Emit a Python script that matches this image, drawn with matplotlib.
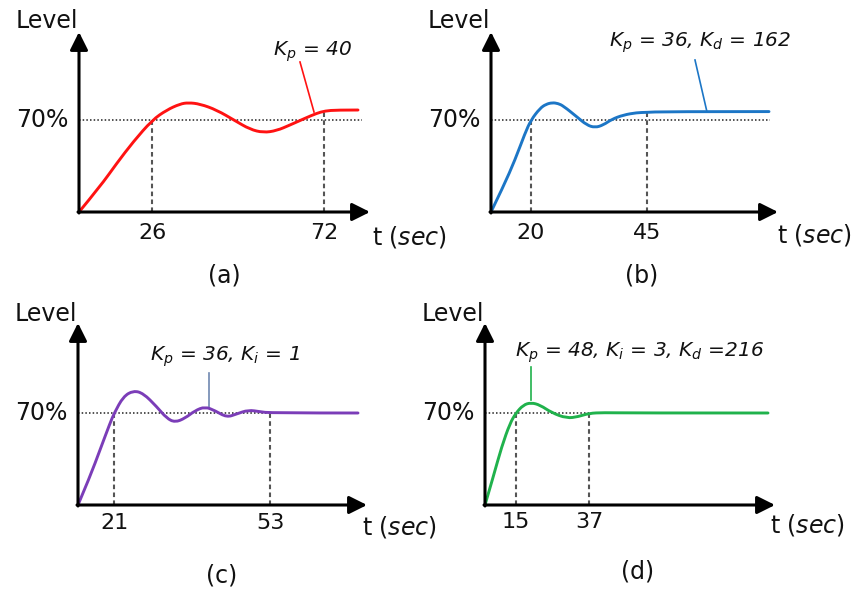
import numpy as np
import matplotlib.pyplot as plt
from matplotlib.path import Path
from matplotlib.patches import PathPatch

plt.rcParams['font.family'] = ['DejaVu Sans']
plt.rcParams['mathtext.fontset'] = 'custom'
plt.rcParams['mathtext.it'] = 'DejaVu Sans:italic'
plt.rcParams['mathtext.rm'] = 'DejaVu Sans'

# x is position along the drawn (schematic) time axis, y is level in %
SETPOINT = 70

t_a = [0, 21, 37.7, 54.3, 73.3, 87.7, 101, 109.3, 121, 137.7, 156, 171, 184.3,
       197.7, 211, 226, 237.7, 246, 257.7, 279]
lvl_a = [0, 19.3, 37.0, 53.5, 70.0, 77.6, 82.2, 83.2, 82.2, 77.6, 69.5, 62.9, 60.4,
         61.9, 66.2, 71.3, 75.1, 76.9, 77.6, 77.6]
ticks_a = [73, 245]
tick_labels_a = ['26', '72']
gains_a = r'$K_p$ = 40'

t_b = [0, 12.3, 24, 34, 40, 49, 55, 61.3, 67, 72.3, 85.7, 95.7, 104, 112.3, 120.7,
       132.3, 145.7, 155.7, 172.3, 278]
lvl_b = [0, 19.3, 39.6, 59.9, 70.0, 78.9, 82.0, 83.2, 82.6, 80.7, 72.5, 66.2, 64.2,
         66.2, 70.5, 73.8, 75.6, 75.8, 76.4, 76.4]
ticks_b = [40, 156]
tick_labels_b = ['20', '45']
gains_b = r'$K_p$ = 36, $K_d$ = 162'

t_c = [0, 12, 22, 32, 36.3, 45.3, 55.3, 65.3, 78.7, 88.7, 97, 107, 117, 127, 137,
       148.7, 158.7, 170.3, 182, 192, 280]
lvl_c = [0, 21.6, 41.9, 62.2, 70.0, 82.5, 87.0, 85.0, 74.8, 66.0, 62.9, 66.0, 71.8,
         74.8, 71.8, 66.7, 69.3, 72.3, 71.0, 70.0, 70.0]
ticks_c = [36, 192]
tick_labels_c = ['21', '53']
gains_c = r'$K_p$ = 36, $K_i$ = 1'

t_d = [0, 8.3, 16.7, 25, 31, 38.3, 46, 55, 66.7, 81.7, 93.3, 104, 118.3, 145, 283]
lvl_d = [0, 21.6, 44.4, 62.2, 70.0, 76.1, 77.9, 76.1, 70.2, 66.0, 67.2, 69.8, 70.3,
         70.0, 70.0]
ticks_d = [31, 104]
tick_labels_d = ['15', '37']
gains_d = r'$K_p$ = 48, $K_i$ = 3, $K_d$ =216'

W, H = 858, 590
S = 92 / 70  # pixels per % level

panels = [
    dict(o=(79, 212), t=t_a, y=lvl_a, ticks=ticks_a, labs=tick_labels_a, gains=gains_a,
         color='#ff1212', lead_color='#ff1212', lab=(233, 160), lead=((221, 150), (235, 100)),
         letter='(a)', letter_xy=(145, -63), tsec=(293, -25), tip=291, top=180, dot=283, ty=-21),
    dict(o=(491, 212), t=t_b, y=lvl_b, ticks=ticks_b, labs=tick_labels_b, gains=gains_b,
         color='#1c76c6', lead_color='#1c76c6', lab=(209, 169), lead=((204, 152), (216, 100)),
         letter='(b)', letter_xy=(151, -63), tsec=(286, -23), tip=287, top=180, dot=279, ty=-21),
    dict(o=(78, 505), t=t_c, y=lvl_c, ticks=ticks_c, labs=tick_labels_c, gains=gains_c,
         color='#7b3db8', lead_color='#7088b0', lab=(147, 148), lead=((131, 132), (131, 98)),
         letter='(c)', letter_xy=(144, -70), tsec=(284, -22), tip=289, top=182, dot=280, ty=-18),
    dict(o=(485, 505), t=t_d, y=lvl_d, ticks=ticks_d, labs=tick_labels_d, gains=gains_d,
         color='#20b24c', lead_color='#20b24c', lab=(155, 152), lead=((46, 138), (46, 105)),
         letter='(d)', letter_xy=(153, -67), tsec=(285, -20), tip=290, top=182, dot=283, ty=-17),
]


def smooth_path(xs, ys):
    # quadratic spline through the midpoints, read points act as control points
    pts = np.column_stack([xs, ys])
    verts = [pts[0]]
    codes = [Path.MOVETO]
    for i in range(1, len(pts) - 1):
        end = pts[i + 1] if i == len(pts) - 2 else (pts[i] + pts[i + 1]) / 2
        verts += [pts[i], end]
        codes += [Path.CURVE3, Path.CURVE3]
    return Path(verts, codes)


fig = plt.figure(figsize=(W / 100, H / 100), dpi=100)

X0, X1, Y0, Y1 = -80, 350, -95, 200
for p in panels:
    ox, oy = p['o']
    ax = fig.add_axes([(ox + X0) / W, (H - (oy - Y0)) / H, (X1 - X0) / W, (Y1 - Y0) / H])
    ax.set_xlim(X0, X1)
    ax.set_ylim(Y0 / S, Y1 / S)
    ax.axis('off')
    ax.patch.set_alpha(0)

    # reference line at setpoint
    ax.plot([0, p['dot']], [SETPOINT, SETPOINT], color='#222222', lw=1.1,
            ls=(0, (1, 1.4)), clip_on=False, zorder=1)
    # dashed markers up to the curve
    for tk, lab in zip(p['ticks'], p['labs']):
        top = np.interp(tk, p['t'], p['y'])
        ax.plot([tk, tk], [0, top], color='#555555', lw=1.5, ls=(0, (2.2, 1.6)),
                clip_on=False, zorder=1)
        ax.text(tk, p['ty'] / S, lab, ha='center', va='center', fontsize=16, color='#111111')

    ax.add_patch(PathPatch(smooth_path(p['t'], p['y']), fill=False, edgecolor=p['color'],
                           lw=2.1, capstyle='round', joinstyle='round', clip_on=False, zorder=3))

    # axes with arrow heads
    arr = dict(arrowstyle='-|>,head_length=0.6,head_width=0.3', lw=2.2, color='black',
               mutation_scale=18, shrinkA=0, shrinkB=0)
    ax.annotate('', xy=(p['tip'], 0), xytext=(-1, 0), arrowprops=arr, zorder=4,
                annotation_clip=False)
    ax.annotate('', xy=(0, p['top'] / S), xytext=(0, -1 / S), arrowprops=arr, zorder=4,
                annotation_clip=False)

    ax.text(-1, 191 / S, 'Level', ha='right', va='center', fontsize=17, color='#111111')
    ax.text(-11, SETPOINT, '70%', ha='right', va='center', fontsize=17, color='#111111')
    ax.text(p['tsec'][0], p['tsec'][1] / S, r't ($\mathit{sec}$)', ha='left', va='center',
            fontsize=17, color='#111111')
    ax.text(p['letter_xy'][0], p['letter_xy'][1] / S, p['letter'], ha='center', va='center',
            fontsize=17, color='#111111')

    # gain annotation with leader line
    ax.text(p['lab'][0], p['lab'][1] / S, p['gains'], ha='center', va='center',
            fontsize=14.5, fontstyle='italic', color='#111111')
    (x1, y1), (x2, y2) = p['lead']
    ax.plot([x1, x2], [y1 / S, y2 / S], color=p['lead_color'], lw=1.2, clip_on=False, zorder=2)

fig.savefig('out.png', dpi=100)
